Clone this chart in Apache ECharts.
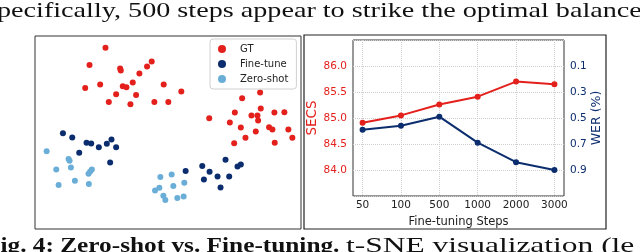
<!DOCTYPE html>
<html>
<head>
<meta charset="utf-8">
<script src="https://cdn.jsdelivr.net/npm/echarts@6/dist/echarts.min.js"></script>
<style>
  html, body { margin: 0; padding: 0; background: #fff; }
  #chart { width: 640px; height: 252px; }
</style>
</head>
<body>
<div id="chart"></div>
<script>
// t-SNE embedding
const gtPoints = [
  [-9.4, 12.75], [-11.8, 10.15], [-7.2, 9.6], [-7.1, 9.3], [-3.15, 9.9], [-2.45, 10.65],
  [-4.3, 8.85], [-10.2, 7.2], [-12.45, 6.7], [-6.8, 6.95], [-6.25, 6.8], [-5.3, 7.5],
  [-0.65, 7.2], [-7.8, 5.75], [-4.8, 5.65], [2.0, 6.15], [-8.9, 4.6], [-5.65, 4.25],
  [-2.05, 4.6], [0.05, 4.6],
  [13.85, 6.0], [11.15, 5.15], [6.2, 2.15], [10.05, 3.0], [12.55, 2.55], [13.45, 2.55],
  [13.55, 1.8], [13.95, 3.6], [16.0, 3.0], [17.5, 3.05], [9.3, 1.5], [10.95, 0.75],
  [15.2, 0.8], [15.7, 0.45], [18.1, 0.45], [13.2, 0.15], [11.65, -0.8], [9.95, -1.6],
  [16.05, -1.55], [18.7, -0.8]
];
const fineTunePoints = [
  [-15.8, -0.1], [-14.4, -0.75], [-12.25, -1.55], [-11.55, -1.65], [-10.4, -2.2],
  [-9.2, -1.7], [-8.5, -1.05], [-7.8, -2.2], [-13.35, -3.05], [-8.7, -4.5],
  [2.65, -5.8], [5.15, -5.05], [6.25, -5.9], [8.65, -4.1], [10.45, -5.1],
  [10.95, -4.8], [7.45, -6.6], [9.2, -6.6], [5.4, -7.05], [7.9, -8.25]
];
const zeroShotPoints = [
  [-18.25, -2.8], [-14.95, -4.0], [-14.8, -4.25], [-14.6, -5.25], [-16.8, -5.55],
  [-11.45, -5.55], [-11.95, -6.2], [-11.7, -5.85], [-14.0, -7.25], [-16.45, -7.9],
  [-11.9, -7.75],
  [-1.15, -6.7], [0.55, -6.3], [-1.3, -8.3], [-1.95, -8.7], [0.8, -8.05],
  [2.45, -7.55], [-0.7, -9.5], [-0.4, -10.15], [1.4, -9.85], [2.35, -9.6]
];

// fine-tuning steps
const steps = ['50', '100', '500', '1000', '2000', '3000'];
const secs = [84.91, 85.05, 85.26, 85.41, 85.70, 85.65];
const wer = [0.59, 0.56, 0.49, 0.69, 0.84, 0.90];

const RED = '#e3201c';
const NAVY = '#0b2d6e';
const LIGHT = '#6aaed8';
const tickFont = 'DejaVu Sans';
const serif = '"Liberation Serif"';

const chart = echarts.init(document.getElementById('chart'));

const option = {
  animation: false,
  backgroundColor: '#fff',
  grid: [
    { left: 35, top: 36, width: 266, height: 193, show: true, borderColor: '#333', borderWidth: 1, backgroundColor: 'transparent' },
    { left: 353, top: 40, width: 211, height: 156, show: true, borderColor: '#333', borderWidth: 1, backgroundColor: 'transparent' }
  ],
  legend: {
    data: ['GT', 'Fine-tune', 'Zero-shot'],
    orient: 'vertical',
    left: 210,
    top: 39,
    padding: [4, 8, 4, 8],
    itemGap: 3,
    itemWidth: 8,
    itemHeight: 8,
    borderColor: '#d0d0d0',
    borderWidth: 1,
    borderRadius: 3,
    backgroundColor: '#fff',
    textStyle: { fontFamily: tickFont, fontSize: 10, color: '#222', padding: [0, 0, 0, 9], lineHeight: 12 }
  },
  xAxis: [
    { gridIndex: 0, type: 'value', min: -20, max: 20, show: false },
    {
      gridIndex: 1, type: 'value', min: -0.25, max: 5.25,
      name: 'Fine-tuning Steps', nameLocation: 'middle', nameGap: 18,
      nameTextStyle: { fontFamily: tickFont, fontSize: 11.5, color: '#222' },
      axisLine: { show: false },
      axisTick: { show: false, customValues: [0, 1, 2, 3, 4, 5] },
      axisLabel: {
        customValues: [0, 1, 2, 3, 4, 5],
        formatter: v => steps[Math.round(v)],
        fontFamily: tickFont, fontSize: 10.5, color: '#222', margin: 4
      },
      splitLine: { show: true, lineStyle: { color: '#cfcfcf', type: 'dotted', width: 1 } }
    }
  ],
  yAxis: [
    { gridIndex: 0, type: 'value', min: -14.5, max: 14.5, show: false },
    {
      gridIndex: 1, type: 'value', min: 83.5, max: 86.5, interval: 0.5,
      name: 'SECS', nameLocation: 'middle', nameGap: 30,
      nameTextStyle: { fontFamily: tickFont, fontSize: 13.5, color: RED },
      axisLine: { show: false },
      axisTick: { show: false },
      axisLabel: {
        showMinLabel: false, showMaxLabel: false,
        formatter: v => v.toFixed(1),
        fontFamily: tickFont, fontSize: 10.5, color: RED, margin: 6
      },
      splitLine: { show: true, lineStyle: { color: '#cfcfcf', type: 'dotted', width: 1 } }
    },
    {
      gridIndex: 1, type: 'value', min: -0.1, max: 1.1, interval: 0.2, inverse: true,
      position: 'right',
      name: 'WER (%)', nameLocation: 'middle', nameGap: 23, nameRotate: 90,
      nameTextStyle: { fontFamily: tickFont, fontSize: 12.5, color: NAVY },
      axisLine: { show: false },
      axisTick: { show: false },
      axisLabel: {
        showMinLabel: false, showMaxLabel: false,
        formatter: v => v.toFixed(1),
        fontFamily: tickFont, fontSize: 10.5, color: NAVY, margin: 6
      },
      splitLine: { show: false }
    }
  ],
  series: [
    {
      name: 'GT', type: 'scatter', xAxisIndex: 0, yAxisIndex: 0,
      data: gtPoints, symbolSize: 6, itemStyle: { color: RED, opacity: 1 }
    },
    {
      name: 'Fine-tune', type: 'scatter', xAxisIndex: 0, yAxisIndex: 0,
      data: fineTunePoints, symbolSize: 6, itemStyle: { color: NAVY, opacity: 1 }
    },
    {
      name: 'Zero-shot', type: 'scatter', xAxisIndex: 0, yAxisIndex: 0,
      data: zeroShotPoints, symbolSize: 6, itemStyle: { color: LIGHT, opacity: 1 }
    },
    {
      name: 'SECS', type: 'line', xAxisIndex: 1, yAxisIndex: 1,
      data: secs.map((v, i) => [i, v]),
      symbol: 'circle', symbolSize: 6,
      lineStyle: { color: RED, width: 2 }, itemStyle: { color: RED }
    },
    {
      name: 'WER', type: 'line', xAxisIndex: 1, yAxisIndex: 2,
      data: wer.map((v, i) => [i, v]),
      symbol: 'circle', symbolSize: 6,
      lineStyle: { color: NAVY, width: 2 }, itemStyle: { color: NAVY }
    }
  ],
  graphic: [
    {
      type: 'rect', silent: true,
      shape: { x: 304, y: 35, width: 302, height: 194 },
      style: { fill: 'none', stroke: '#222', lineWidth: 1.2 }
    },
    // body text line above the figure (cut at both edges)
    {
      type: 'text', silent: true, x: -3, y: 0, scaleX: 1.28,
      style: {
        text: 'pecifically, 500 steps appear to strike the optimal balance',
        font: '22px ' + serif, fill: '#111', textVerticalAlign: 'top'
      }
    },
    // caption below (cut at the bottom)
    {
      type: 'text', silent: true, x: -15, y: 235, scaleX: 1.15,
      style: {
        text: 'Fig. 4: Zero-shot vs. Fine-tuning.',
        font: 'bold 22px ' + serif, fill: '#111', textVerticalAlign: 'top'
      }
    },
    {
      type: 'text', silent: true, x: 346, y: 235, scaleX: 1.43,
      style: {
        text: 't-SNE visualization (le',
        font: '22px ' + serif, fill: '#111', textVerticalAlign: 'top'
      }
    }
  ]
};

chart.setOption(option);
window.addEventListener('resize', function () {
  chart.resize();
});
</script>
</body>
</html>
